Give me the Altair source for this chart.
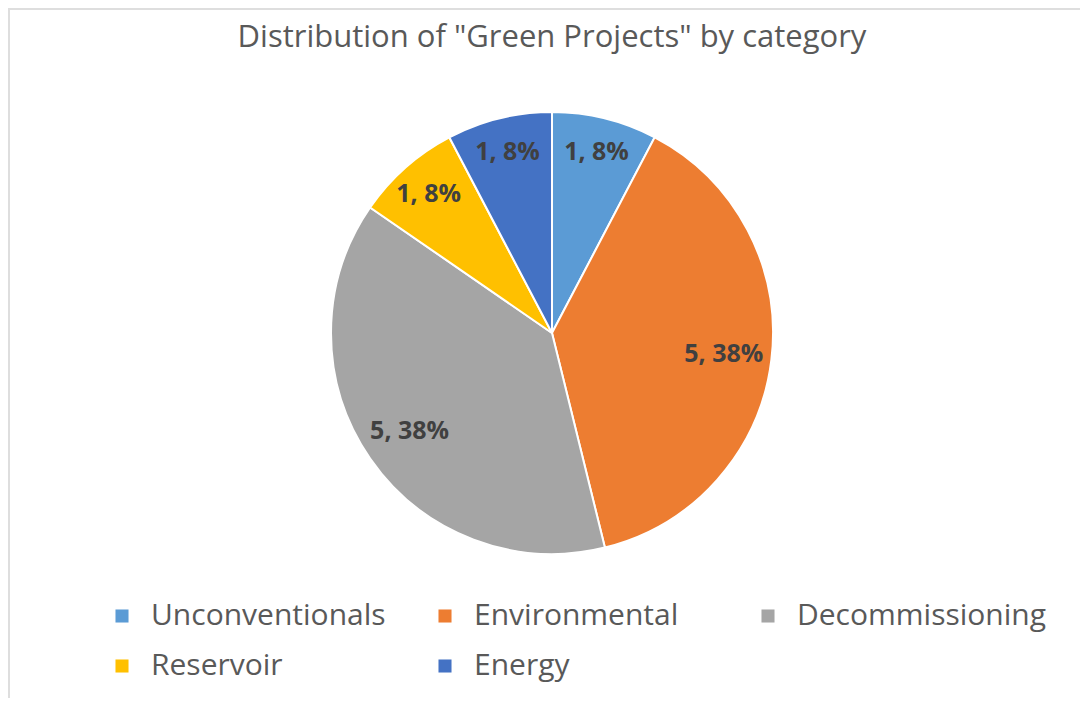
import altair as alt
import pandas as pd

categories = ["Unconventionals", "Environmental", "Decommissioning", "Reservoir", "Energy"]
counts = [1, 5, 5, 1, 1]
colors = ["#5B9BD5", "#ED7D31", "#A5A5A5", "#FFC000", "#4472C4"]
title_text = 'Distribution of "Green Projects" by category'

total = sum(counts)
df = pd.DataFrame({
    "category": categories,
    "count": counts,
    "order": list(range(len(categories))),
})
df["label"] = [f"{c}, {round(100 * c / total)}%" for c in counts]

FONT = "Open Sans"
PAD_TOP = 40
W, H = 1072, 650
CX, CY = 544, 285

color = alt.Color(
    "category:N",
    sort=categories,
    scale=alt.Scale(domain=categories, range=colors),
    legend=alt.Legend(
        title=None,
        orient="none",
        legendX=99,
        legendY=553,
        direction="horizontal",
        columns=3,
        gridAlign="all",
        columnPadding=29,
        rowPadding=20,
        symbolType="square",
        symbolSize=170,
        symbolStrokeWidth=0,
        labelFont=FONT,
        labelFontSize=30,
        labelColor="#595959",
        labelOffset=14,
        labelLimit=400,
        padding=0,
    ),
)

pie = alt.Chart(df).mark_arc(radius=221, stroke="white", strokeWidth=2).encode(
    theta=alt.Theta("count:Q", stack=True),
    order=alt.Order("order:Q"),
    color=color,
    x=alt.value(CX),
    y=alt.value(CY),
)

labels = alt.Chart(df).transform_window(
    cum="sum(count)", sort=[alt.SortField("order")]
).transform_calculate(
    mid="datum.cum - datum.count / 2",
    lr="datum.count >= 5 ? 173 : 186",
).mark_text(
    font=FONT, fontSize=25, fontWeight="bold", color="#404040"
).encode(
    theta=alt.Theta("mid:Q", stack=False, scale=alt.Scale(domain=[0, total])),
    text="label:N",
    radius=alt.Radius("lr:Q", scale=None),
    x=alt.value(CX),
    y=alt.value(CY),
)

title = alt.Chart(pd.DataFrame({"t": [title_text]})).mark_text(
    font=FONT, fontSize=31, color="#595959", baseline="alphabetic", align="center"
).encode(text="t:N", x=alt.value(CX), y=alt.value(-1))

frame = alt.Chart(pd.DataFrame({"k": [0]})).mark_rule(color="#dedede", strokeWidth=2)
frame_top = frame.encode(x=alt.value(0), x2=alt.value(W), y=alt.value(-PAD_TOP + 1))
frame_left = frame.encode(x=alt.value(1), y=alt.value(-PAD_TOP), y2=alt.value(H))

chart = alt.layer(frame_top, frame_left, pie, labels, title).resolve_scale(
    theta="independent"
).properties(
    width=W,
    height=H,
    autosize=alt.AutoSizeParams(type="none"),
    padding={"top": PAD_TOP, "left": 0, "right": 0, "bottom": 0},
).configure_view(stroke=None)

chart.save("out.html", embed_options={"renderer": "svg", "actions": False})
